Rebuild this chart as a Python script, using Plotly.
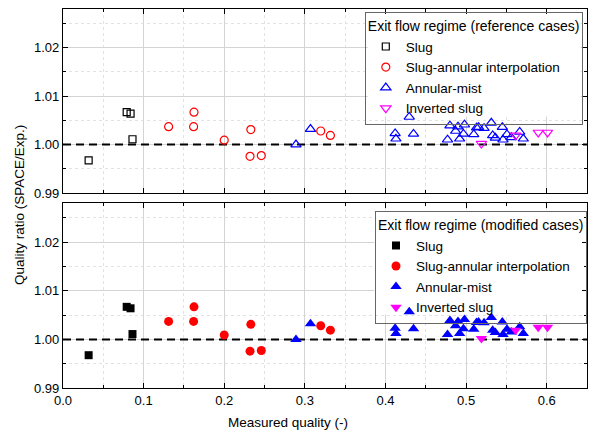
import plotly.graph_objects as go

# ---- data ----
slug_x = [0.0318, 0.079, 0.0838, 0.0862]
slug_y = [0.99675, 1.0067, 1.0064, 1.0011]

sai_x = [0.131, 0.1625, 0.162, 0.200, 0.233, 0.232, 0.246, 0.3197, 0.3317]
sai_y = [1.0037, 1.0067, 1.0037, 1.0009, 1.0031, 0.99758, 0.99772, 1.0028, 1.0019]

am_x = [0.289, 0.307, 0.412, 0.413, 0.4295, 0.4348,
        0.480, 0.477, 0.490, 0.492, 0.4967, 0.498, 0.487, 0.5095, 0.513, 0.5155,
        0.5223, 0.5313, 0.533, 0.5363, 0.545, 0.5458, 0.5507, 0.556, 0.5665, 0.571]
am_y = [1.0000, 1.0032, 1.0023, 1.0012, 1.0057, 1.0022,
        1.0039, 1.0010, 1.0037, 1.0012, 1.0022, 1.0041, 1.0028, 1.0021, 1.0035, 1.0036,
        1.0034, 1.0045, 1.0019, 1.0014, 1.0036, 1.0010, 1.0021, 1.0015, 1.0026, 1.0012]

inv_x = [0.519, 0.5615, 0.5895, 0.601]
inv_y = [1.0002, 1.0019, 1.0025, 1.0025]

ref_line_x = [0.0, 0.65]
ref_line_y = [1.0, 1.0]

x_range = [0.0, 0.65]
y_range = [0.99, 1.028]

series = [
    ("Slug", slug_x, slug_y, "square", "black", 7),
    ("Slug-annular interpolation", sai_x, sai_y, "circle", "red", 8),
    ("Annular-mist", am_x, am_y, "triangle-up", "blue", 9),
    ("Inverted slug", inv_x, inv_y, "triangle-down", "magenta", 9),
]

fig = go.Figure()
FONT = "Liberation Sans, Arial, sans-serif"

for panel, (xa, ya, leg) in enumerate([("x", "y", "legend"), ("x2", "y2", "legend2")]):
    fig.add_trace(go.Scatter(x=ref_line_x, y=ref_line_y, mode="lines", xaxis=xa, yaxis=ya,
                             line=dict(color="black", width=2, dash="8px,5px"),
                             showlegend=False, hoverinfo="skip"))
    for name, xs, ys, sym, col, sz in series:
        if panel == 0:
            marker = dict(symbol=sym + "-open", size=sz, color=col, line=dict(width=1.2, color=col))
        else:
            marker = dict(symbol=sym, size=sz + 1, color=col, line=dict(width=0))
        fig.add_trace(go.Scatter(x=xs, y=ys, mode="markers", name=name, xaxis=xa, yaxis=ya,
                                 marker=marker, legend=leg))

common_axis = dict(
    showline=True, linecolor="black", linewidth=1.2, mirror="ticks",
    ticks="inside", ticklen=5, tickcolor="black",
    showgrid=True, gridcolor="#d4d4d4", gridwidth=1,
    zeroline=False,
    tickfont=dict(family=FONT, size=13, color="black"),
)
minor_x = dict(dtick=0.05, ticks="inside", ticklen=3, tickcolor="black",
               showgrid=True, gridcolor="#e2e2e2", griddash="dot")
minor_y = dict(dtick=0.005, ticks="inside", ticklen=3, tickcolor="black",
               showgrid=True, gridcolor="#e2e2e2", griddash="dot")

# legend backgrounds: white boxes between grid and markers so no marker is hidden
legend_bg = [
    dict(type="rect", xref="x", yref="y", x0=0.378, x1=0.642, y0=1.0058, y1=1.0278,
         fillcolor="white", line=dict(width=0), layer="between"),
    dict(type="rect", xref="x2", yref="y2", x0=0.386, x1=0.65, y0=1.0051, y1=1.0268,
         fillcolor="white", line=dict(width=0), layer="between"),
]

legend_common = dict(xanchor="right", yanchor="top",
                     bgcolor="rgba(255,255,255,0)", bordercolor="#666666", borderwidth=1,
                     font=dict(family=FONT, size=13.5, color="black"),
                     tracegroupgap=0)

fig.update_layout(
    width=590, height=435,
    margin=dict(l=63, r=3, t=9, b=47),
    paper_bgcolor="white", plot_bgcolor="white",
    font=dict(family=FONT, size=13, color="black"),
    xaxis=dict(common_axis, range=x_range, dtick=0.1, tickformat=".1f", showticklabels=False,
               anchor="y", minor=minor_x),
    yaxis=dict(common_axis, range=y_range, dtick=0.01, tick0=0.99, tickformat=".2f",
               domain=[0.5145, 1.0], anchor="x", minor=minor_y),
    xaxis2=dict(common_axis, range=x_range, dtick=0.1, tickformat=".1f", anchor="y2",
                minor=minor_x),
    yaxis2=dict(common_axis, range=y_range, dtick=0.01, tick0=0.99, tickformat=".2f",
                domain=[0.0, 0.4873], anchor="x2", minor=minor_y),
    legend=dict(legend_common, x=0.992, y=0.992,
                title=dict(text="Exit flow regime (reference cases)", font=dict(family=FONT, size=14))),
    legend2=dict(legend_common, x=1.0, y=0.467,
                 title=dict(text="Exit flow regime (modified cases)", font=dict(family=FONT, size=14))),
    shapes=legend_bg,
    annotations=[
        dict(text="Quality ratio (SPACE/Exp.)", xref="paper", yref="paper",
             x=-0.0820, y=0.483, xanchor="center", yanchor="middle", textangle=-90,
             showarrow=False, font=dict(family=FONT, size=13.5, color="black")),
        dict(text="Measured quality (-)", xref="paper", yref="paper",
             x=0.429, y=-0.092, xanchor="center", yanchor="middle",
             showarrow=False, font=dict(family=FONT, size=13.5, color="black")),
    ],
)

fig.write_html("out.html", config={"displayModeBar": False},
               post_script="document.body.style.margin='0px';")
